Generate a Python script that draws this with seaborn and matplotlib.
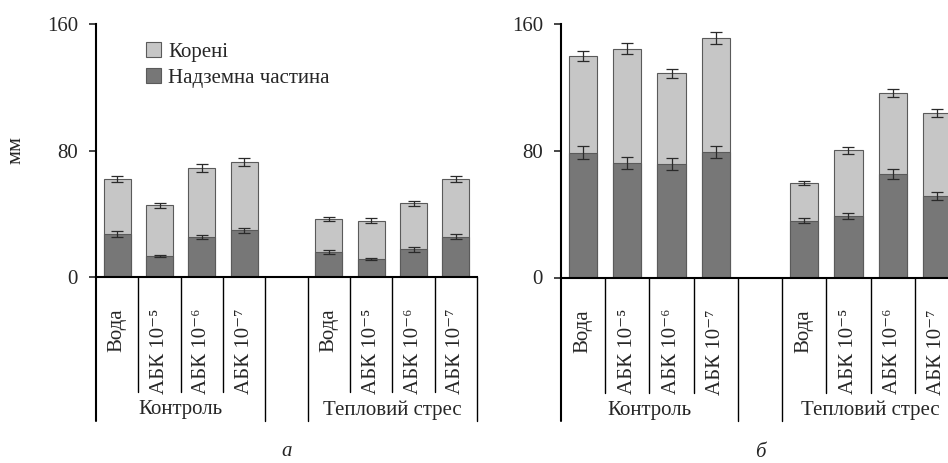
import matplotlib
matplotlib.use("Agg")

import numpy as np
import pandas as pd
import matplotlib.pyplot as plt
import matplotlib.transforms as mtransforms
from matplotlib.patches import Patch
import seaborn as sns

# ─── Data (mm) ───────────────────────────────────────────────────────────────
groups     = ["Контроль", "Тепловий стрес"]
treatments = ["Вода", "АБК 10⁻⁵", "АБК 10⁻⁶", "АБК 10⁻⁷"]

# panel a
a_total      = [61.8, 45.5, 68.7, 72.7, 36.7, 35.6, 46.6, 61.8]
a_total_err  = [2.0, 1.6, 2.5, 2.4, 1.4, 1.4, 1.6, 2.0]
a_shoot      = [27.2, 13.3, 25.5, 29.7, 15.6, 11.6, 17.5, 25.5]
a_shoot_err  = [1.6, 0.6, 1.3, 1.6, 1.2, 0.6, 1.4, 1.4]

# panel b
b_total      = [140.1, 144.7, 129.1, 151.2, 59.7, 80.6, 116.4, 104.0]
b_total_err  = [3.3, 3.5, 2.8, 3.8, 1.2, 2.2, 2.5, 2.8]
b_shoot      = [78.9, 72.4, 71.8, 79.4, 35.9, 38.6, 65.6, 51.5]
b_shoot_err  = [4.1, 3.9, 3.5, 3.9, 1.7, 1.9, 3.2, 2.7]

LIGHT = "#c6c6c6"
DARK  = "#777777"
EDGE  = "#5a5a5a"
FS    = 15

sns.set_style("white")
plt.rcParams['font.family'] = ['Liberation Serif', 'DejaVu Serif']


def make_df(total, shoot):
    keys = [f"{g}|{t}" for g in groups for t in treatments]
    return pd.DataFrame({"key": keys, "total": total, "shoot": shoot})


def draw_panel(ax, total, total_err, shoot, shoot_err, letter):
    df = make_df(total, shoot)
    order = [f"{groups[0]}|{t}" for t in treatments] + ["gap"] + \
            [f"{groups[1]}|{t}" for t in treatments]
    sns.barplot(data=df, x="key", y="total", order=order, color=LIGHT,
                width=0.64, edgecolor=EDGE, linewidth=0.8, saturation=1,
                errorbar=None, ax=ax)
    sns.barplot(data=df, x="key", y="shoot", order=order, color=DARK,
                width=0.64, edgecolor=EDGE, linewidth=0.8, saturation=1,
                errorbar=None, ax=ax)
    xpos = [0, 1, 2, 3, 5, 6, 7, 8]
    ax.errorbar(xpos, total, yerr=total_err, fmt="none", ecolor="#2a2a2a",
                elinewidth=0.9, capsize=4, capthick=0.9, zorder=5)
    ax.errorbar(xpos, shoot, yerr=shoot_err, fmt="none", ecolor="#2a2a2a",
                elinewidth=0.9, capsize=4, capthick=0.9, zorder=5)

    ax.set_ylim(0, 160)
    ax.set_xlim(-0.5, 8.5)
    ax.set_yticks([0, 80, 160])
    ax.set_xticks([])
    ax.set_xlabel("")
    ax.set_ylabel("")
    ax.tick_params(axis="y", which="both", left=True, length=5, width=1.2,
                   labelsize=FS, pad=8, direction="out")
    for s in ["top", "right"]:
        ax.spines[s].set_visible(False)
    for s in ["left", "bottom"]:
        ax.spines[s].set_color("black")
        ax.spines[s].set_linewidth(1.5)

    # multi-level category axis underneath
    trans = mtransforms.blended_transform_factory(ax.transData, ax.transAxes)
    for xb in [-0.5, 0.5, 1.5, 2.5, 3.5, 4.5, 5.5, 6.5, 7.5, 8.5]:
        long_line = xb in (-0.5, 3.5, 4.5, 8.5)
        y_end = -0.568 if long_line else -0.455
        ax.plot([xb, xb], [0, y_end], color="black", lw=1.0 if xb != -0.5 else 1.5,
                transform=trans, clip_on=False)
    for x, lab in zip(xpos, treatments * 2):
        ax.text(x, -0.125, lab, rotation=90, ha="center", va="top",
                fontsize=FS, transform=trans)
    ax.text(1.5, -0.525, groups[0], ha="center", va="center", fontsize=FS,
            transform=trans)
    ax.text(6.5, -0.525, groups[1], ha="center", va="center", fontsize=FS,
            transform=trans)
    ax.text(4.0, -0.69, letter, ha="center", va="center", fontsize=FS,
            style="italic", transform=trans)


fig = plt.figure(figsize=(9.48, 4.63), dpi=100)
ax_a = fig.add_axes([96 / 948, (463 - 277) / 463, 381 / 948, 253 / 463])
ax_b = fig.add_axes([561 / 948, (463 - 277.5) / 463, 398 / 948, 253 / 463])

draw_panel(ax_a, a_total, a_total_err, a_shoot, a_shoot_err, "а")
draw_panel(ax_b, b_total, b_total_err, b_shoot, b_shoot_err, "б")

fig.text(16 / 948, 1 - 150 / 463, "мм", rotation=90, ha="center", va="center",
         fontsize=16)

handles = [Patch(facecolor=LIGHT, edgecolor=EDGE, linewidth=0.8, label="Корені"),
           Patch(facecolor=DARK, edgecolor=EDGE, linewidth=0.8, label="Надземна частина")]
ax_a.legend(handles=handles, loc="upper left", bbox_to_anchor=(0.11, 0.96),
            frameon=False, fontsize=FS, handlelength=0.7, handleheight=0.7,
            handletextpad=0.35, labelspacing=0.3, borderaxespad=0)

fig.savefig("out.png", dpi=100)
